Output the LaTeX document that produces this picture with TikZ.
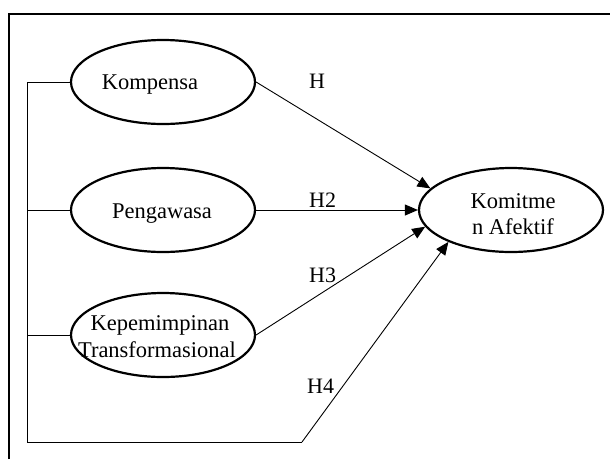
\documentclass[tikz,border=0pt]{standalone}
\usepackage{fontspec}
\setmainfont{Liberation Serif}
\usetikzlibrary{shapes.geometric,arrows.meta}
\begin{document}
\begin{tikzpicture}[x=1pt,y=-1pt,
  oval/.style={draw,ellipse,line width=2.2pt,minimum width=184pt,minimum height=84pt,inner sep=0pt},
  txt/.style={font=\fontsize{22.5}{27}\selectfont,inner sep=0pt,anchor=base},
  lbl/.style={font=\fontsize{22}{27}\selectfont,inner sep=0pt,anchor=base west},
  conn/.style={line width=0.9pt},
  arr/.style={conn,-{Triangle[length=13pt,width=11pt]}}]
\useasboundingbox (0,0) rectangle (610,459);
\draw[line width=2.5pt] (9,459) -- (9,14) -- (611,14);
\node[oval] (kom) at (163,82) {};
\node[txt] (tkom) at (150,89) {Kompensa};
\node[oval] (peng) at (163,210) {};
\node[txt] (tpeng) at (162,218) {Pengawasa};
\node[oval] (kep) at (163,335) {};
\node[txt] (tkep1) at (160,330) {Kepemimpinan};
\node[txt] (tkep2) at (157,357) {Transformasional};
\node[oval] (kmt) at (511,210) {};
\node[txt] (tkmt1) at (513,208) {Komitme};
\node[txt] (tkmt2) at (513,234) {n Afektif};
\coordinate (c1) at (27,82);
\coordinate (c2) at (27,442);
\coordinate (c3) at (302,442);
\draw[conn] (kom.west) -- (c1) -- (c2) -- (c3);
\draw[conn] (peng.west) -- (peng.west -| c1);
\draw[conn] (kep.west) -- (kep.west -| c1);
\draw[arr] (kom.east) -- (kmt.165.8);
\draw[arr] (peng.east) -- (kmt.west);
\draw[arr] (kep.east) -- (kmt.191.4);
\draw[arr] (c3) -- (kmt.207.6);
\node[lbl] (h1) at (309,88) {H};
\node[lbl] (h2) at (309,207) {H2};
\node[lbl] (h3) at (309,282) {H3};
\node[lbl] (h4) at (307,393) {H4};
\end{tikzpicture}
\end{document}
